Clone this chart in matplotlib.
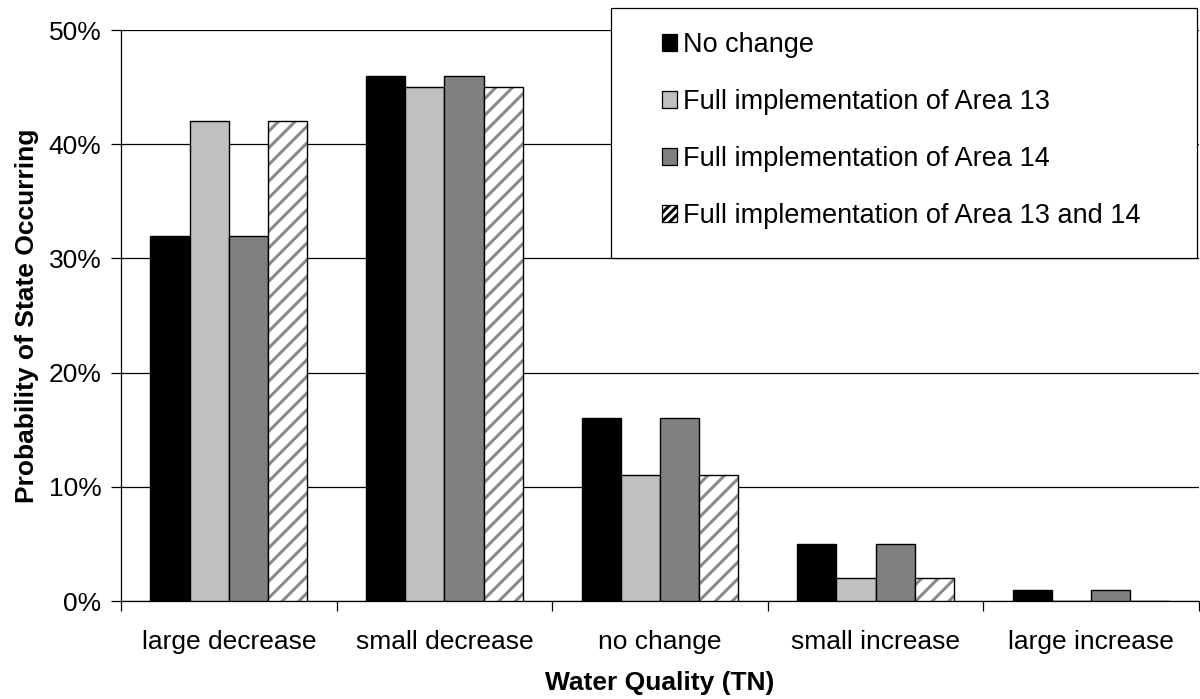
"""Probability of water quality (TN) states under each implementation scenario."""

import matplotlib.pyplot as plt
import numpy as np
from matplotlib.patches import Rectangle
from matplotlib.ticker import FixedLocator, PercentFormatter

plt.rcParams["font.family"] = ["Liberation Sans", "DejaVu Sans"]
plt.rcParams["hatch.linewidth"] = 2.2

categories = ["large decrease", "small decrease", "no change",
              "small increase", "large increase"]
series_names = ["No change", "Full implementation of Area 13",
                "Full implementation of Area 14",
                "Full implementation of Area 13 and 14"]
no_change = [32, 46, 16, 5, 1]
area_13 = [42, 45, 11, 2, 0]
area_14 = [32, 46, 16, 5, 1]
area_13_14 = [42, 45, 11, 2, 0]

fills = ["#000000", "#c0c0c0", "#808080", "#ffffff"]
hatches = [None, None, None, "//"]
FONT = 19


def draw_bars(ax, x, values, color, hatch):
	if hatch:
		ax.bar(x, values, width, color=color, edgecolor="#8a8a8a",
			hatch=hatch, linewidth=0, zorder=3)
		ax.bar(x, values, width, fill=False, edgecolor="black",
			linewidth=1.0, zorder=4)
	else:
		ax.bar(x, values, width, color=color, edgecolor="black",
			linewidth=1.0, zorder=3)


fig = plt.figure(figsize=(12, 6.99), dpi=100)
ax = fig.add_axes([0.1008, 0.1402, 0.8984, 0.8168])

x = np.arange(len(categories))
width = 0.182
all_series = [no_change, area_13, area_14, area_13_14]
for i, values in enumerate(all_series):
	draw_bars(ax, x + (i - 1.5) * width, values, fills[i], hatches[i])

ax.set_xlim(-0.5, len(categories) - 0.5)
ax.set_ylim(0, 50)
ax.set_yticks(np.arange(0, 51, 10))
ax.yaxis.set_major_formatter(PercentFormatter(decimals=0))
ax.yaxis.grid(True, color="black", linewidth=0.9, zorder=0)
ax.set_axisbelow(True)

ax.set_xticks(x)
ax.set_xticklabels(categories)
ax.xaxis.set_minor_locator(FixedLocator(np.arange(-0.5, len(categories), 1.0)))
ax.tick_params(axis="x", which="major", length=0, pad=21, labelsize=FONT)
ax.tick_params(axis="x", which="minor", length=7, width=0.9,
	direction="out")
ax.tick_params(axis="y", length=7, width=0.9, direction="out",
	labelsize=FONT, pad=7)

for side in ("top", "right"):
	ax.spines[side].set_visible(False)
for side in ("left", "bottom"):
	ax.spines[side].set_linewidth(0.9)

ax.set_xlabel("Water Quality (TN)", fontsize=FONT, fontweight="bold",
	labelpad=12)
ax.set_ylabel("Probability of State Occurring", fontsize=FONT,
	fontweight="bold", labelpad=7)

# legend: fixed-size box with the entries placed inside it
fig.patches.append(Rectangle((611 / 1200, 1 - 258 / 699), 586 / 1200,
	250 / 699, transform=fig.transFigure, facecolor="white",
	edgecolor="black", linewidth=0.9, zorder=5))

handles = []
for i in range(len(series_names)):
	handles.append(Rectangle((0, 0), 1, 1, facecolor=fills[i],
		edgecolor="black", linewidth=0.9,
		hatch="////" if hatches[i] else None))
leg = fig.legend(handles, series_names, loc="upper left",
	bbox_to_anchor=(662 / 1200, 1 - 32 / 699), frameon=False,
	fontsize=19.5, handlelength=0.56, handleheight=0.56,
	handletextpad=0.22, labelspacing=1.145, borderpad=0,
	borderaxespad=0)
leg.set_zorder(6)

fig.savefig("out.png", dpi=100)
